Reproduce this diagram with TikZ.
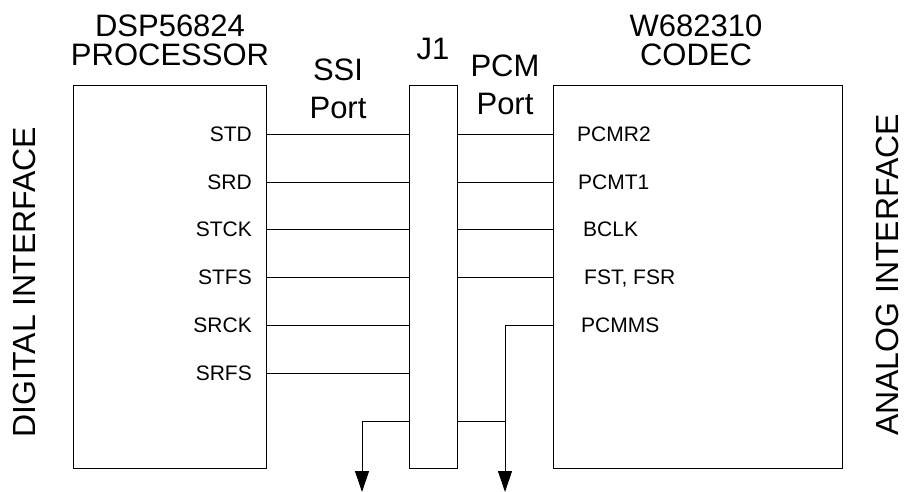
\documentclass[tikz,border=0pt]{standalone}
\usepackage{fontspec}
\setmainfont{Liberation Sans}
\usetikzlibrary{arrows.meta}

\begin{document}
\begin{tikzpicture}[x=1pt,y=-1pt,
    blk/.style={draw, line width=1pt, inner sep=0pt},
    wire/.style={line width=1pt},
    gnd/.style={line width=1pt, -{Triangle[width=14pt,length=21pt]}},
    title/.style={font=\fontsize{31}{29}\selectfont, align=center, inner sep=0pt},
    port/.style={font=\fontsize{31}{38}\selectfont, align=center, inner sep=0pt},
    side/.style={font=\fontsize{32}{34}\selectfont, rotate=90, inner sep=0pt},
    sig/.style={font=\fontsize{21}{22}\selectfont, inner sep=0pt, text height=15pt, text depth=0pt}
]
\useasboundingbox (0,0) rectangle (904,492);

% blocks
\node[blk, minimum width=193pt, minimum height=382pt] (dsp) at (169.5,277) {};
\node[blk, minimum width=48pt, minimum height=382pt] (j1) at (433,277) {};
\node[blk, minimum width=289pt, minimum height=382pt] (codec) at (697.5,277) {};

% titles
\node[title] (dsptitle) at (170,40) {DSP56824\\PROCESSOR};
\node[title] (j1title) at (433,49) {J1};
\node[title] (codectitle) at (696,40) {W682310\\CODEC};
\node[port] (ssi) at (338,89) {SSI\\Port};
\node[port] (pcm) at (505,85) {PCM\\Port};
\node[side] (dig) at (24,282) {DIGITAL INTERFACE};
\node[side] (ana) at (887,275) {ANALOG INTERFACE};

% SSI side
\foreach \sig/\yy [count=\i] in {STD/134, SRD/182, STCK/229, STFS/277, SRCK/325, SRFS/373} {
  \node[sig, anchor=east] (s\i) at (252,\yy) {\sig};
  \draw[wire] (s\i -| dsp.east) -- (s\i -| j1.west);
}

% PCM side
\foreach \sig/\xx/\yy [count=\i] in {PCMR2/577/134, PCMT1/578/182, BCLK/583/229, {FST, FSR}/584/277} {
  \node[sig, anchor=west] (p\i) at (\xx,\yy) {\sig};
  \draw[wire] (p\i -| j1.east) -- (p\i -| codec.west);
}
\node[sig, anchor=west] (p5) at (581,325) {PCMMS};

% ground taps
\coordinate (tap) at (433,421);
\coordinate (gndL) at (362,492);
\coordinate (gndR) at (505,492);
\draw[gnd] (tap -| j1.west) -| (gndL);
\draw[wire] (tap -| j1.east) -- (tap -| gndR);
\draw[gnd] (p5 -| codec.west) -| (gndR);
\end{tikzpicture}
\end{document}
